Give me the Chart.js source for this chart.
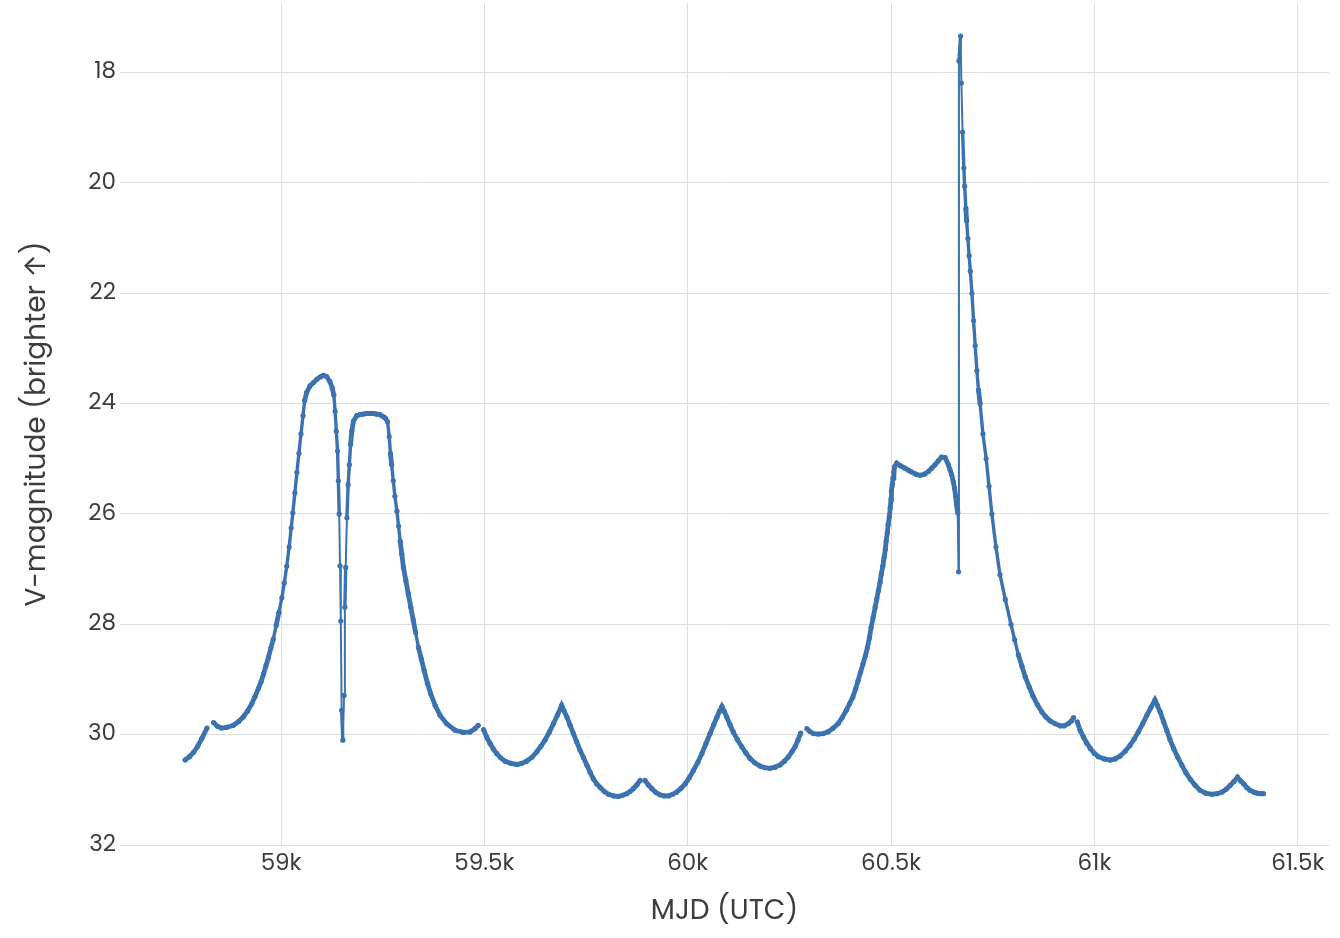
<!DOCTYPE html>
<html>
<head>
<meta charset="utf-8">
<script src="https://cdn.jsdelivr.net/npm/chart.js@4"></script>
<style>
  html, body { margin: 0; background: #fff; }
  #wrap { width: 1340px; height: 938px; }
</style>
</head>
<body>
<div id="wrap"><canvas id="chart"></canvas></div>
<script>
// light curve, one array per observing arc: [MJD, V-mag]
const arc1 = [[58764,30.46],[58775,30.40],[58785,30.32],[58795,30.21],[58805,30.07],[58818,29.88]];

const arc2 = [[58834,29.78],[58844,29.85],[58854,29.88],[58866,29.87],[58883,29.83],[58896,29.76],[58907,29.68],
  [58918,29.57],[58928,29.44],[58936,29.31],[58944,29.17],[58951,29.04],[58957,28.90],[58963,28.75],[58969,28.60],
  [58975,28.43],[58981,28.27],[58988,28.02],[58995,27.78],[59002,27.52],[59008,27.25],[59014,26.95],[59020,26.60],
  [59025,26.25],[59029,25.98],[59034,25.62],[59039,25.25],[59044,24.90],[59049,24.55],[59054,24.22],[59058,23.95],
  [59063,23.80],[59071,23.68],[59080,23.62],[59088,23.56],[59096,23.52],[59104,23.49],[59112,23.51],[59120,23.60],
  [59126,23.72],[59130,23.85],[59133,24.14],[59136,24.50],[59139,24.86],[59141,25.40],[59143,26.00],[59145,26.94],
  [59147,27.94],[59149,29.56],[59152,30.10],[59155,29.29],[59157,27.69],[59159,26.97],[59162,26.07],[59165,25.47],
  [59168,25.11],[59171,24.74],[59174,24.50],[59178,24.32],[59186,24.22],[59194,24.20],[59202,24.19],[59210,24.18],
  [59218,24.18],[59227,24.18],[59235,24.19],[59243,24.20],[59250,24.23],[59256,24.26],[59262,24.33],[59266,24.60],
  [59269,24.90],[59272,25.11],[59276,25.40],[59280,25.68],[59285,25.95],[59289,26.22],[59293,26.49],[59297,26.73],
  [59301,26.97],[59307,27.21],[59313,27.45],[59319,27.69],[59325,27.92],[59331,28.15],[59338,28.42],[59345,28.63],
  [59352,28.84],[59360,29.07],[59368,29.26],[59379,29.47],[59391,29.65],[59407,29.80],[59428,29.92],[59448,29.96],
  [59465,29.95],[59477,29.89],[59485,29.83]];

const arc3 = [[59498,29.91],[59506,30.05],[59514,30.16],[59522,30.26],[59530,30.34],[59540,30.42],[59551,30.48],
  [59565,30.52],[59580,30.54],[59592,30.52],[59604,30.48],[59617,30.41],[59629,30.31],[59639,30.21],[59649,30.10],
  [59660,29.95],[59670,29.80],[59680,29.64],[59690,29.47],[59696,29.57],[59703,29.68],[59711,29.83],[59719,29.98],
  [59727,30.13],[59735,30.28],[59744,30.42],[59752,30.55],[59760,30.68],[59768,30.80],[59776,30.89],[59785,30.96],
  [59795,31.03],[59805,31.08],[59818,31.11],[59830,31.12],[59840,31.10],[59850,31.07],[59858,31.03],[59866,30.98],
  [59875,30.91],[59883,30.83]];

const arc4 = [[59895,30.83],[59903,30.91],[59912,30.98],[59922,31.05],[59932,31.09],[59942,31.11],[59953,31.11],
  [59963,31.08],[59973,31.04],[59984,30.97],[59994,30.89],[60004,30.78],[60014,30.65],[60025,30.50],[60035,30.34],
  [60045,30.16],[60055,29.98],[60064,29.82],[60072,29.68],[60078,29.58],[60084,29.49],[60090,29.58],[60096,29.68],
  [60104,29.82],[60112,29.95],[60122,30.09],[60133,30.22],[60143,30.33],[60153,30.43],[60165,30.51],[60178,30.57],
  [60190,30.60],[60202,30.61],[60215,30.59],[60227,30.55],[60238,30.48],[60248,30.40],[60256,30.31],[60264,30.22],
  [60271,30.10],[60278,29.97]];

const arc5 = [[60293,29.89],[60300,29.94],[60309,29.98],[60321,29.99],[60333,29.98],[60345,29.95],[60358,29.88],
  [60370,29.80],[60380,29.69],[60390,29.56],[60398,29.44],[60406,29.32],[60413,29.17],[60419,29.02],[60425,28.87],
  [60431,28.72],[60437,28.57],[60442,28.42],[60447,28.24],[60451,28.06],[60456,27.88],[60461,27.69],[60465,27.54],
  [60469,27.39],[60473,27.24],[60476,27.09],[60480,26.94],[60483,26.79],[60486,26.64],[60488,26.49],[60491,26.34],
  [60493,26.19],[60496,26.04],[60498,25.89],[60500,25.74],[60501,25.59],[60503,25.47],[60505,25.35],[60507,25.24],
  [60509,25.14],[60514,25.08],[60524,25.13],[60534,25.17],[60543,25.21],[60551,25.24],[60561,25.28],[60571,25.30],
  [60582,25.28],[60592,25.23],[60600,25.17],[60608,25.11],[60616,25.04],[60624,24.97],[60633,24.98],[60641,25.11],
  [60645,25.20],[60649,25.29],[60653,25.41],[60656,25.53],[60659,25.68],[60661,25.83],[60663,25.92],[60664,25.98],
  [60666,27.05],[60667,17.79],[60671,17.34],[60673,18.19],[60676,19.08],[60679,19.73],[60681,20.06],[60684,20.46],
  [60686,20.69],[60689,21.01],[60692,21.32],[60695,21.60],[60699,22.00],[60703,22.50],[60707,22.95],[60711,23.40],
  [60715,23.75],[60719,24.00],[60726,24.55],[60734,25.00],[60741,25.50],[60748,26.00],[60758,26.60],[60768,27.10],
  [60781,27.55],[60795,28.00],[60804,28.28],[60813,28.55],[60822,28.76],[60830,28.95],[60840,29.14],[60849,29.30],
  [60860,29.46],[60871,29.59],[60881,29.68],[60891,29.75],[60903,29.80],[60916,29.84],[60926,29.84],[60936,29.80],
  [60944,29.75],[60949,29.69]];

const arc6 = [[60958,29.77],[60965,29.92],[60973,30.04],[60981,30.15],[60990,30.25],[61000,30.34],[61010,30.40],
  [61024,30.44],[61039,30.46],[61051,30.44],[61063,30.39],[61076,30.30],[61088,30.19],[61098,30.08],[61108,29.95],
  [61119,29.80],[61129,29.65],[61139,29.51],[61149,29.37],[61155,29.47],[61162,29.59],[61170,29.76],[61178,29.92],
  [61186,30.09],[61195,30.25],[61205,30.41],[61215,30.55],[61225,30.69],[61236,30.81],[61248,30.92],[61260,31.01],
  [61274,31.06],[61289,31.08],[61302,31.07],[61314,31.04],[61324,30.99],[61334,30.92],[61343,30.85],[61352,30.77],
  [61360,30.84],[61367,30.89],[61375,30.96],[61383,31.01],[61392,31.04],[61400,31.06],[61408,31.07],[61416,31.07]];

const xTicks = [59000, 59500, 60000, 60500, 61000, 61500];
const yTicks = [18, 20, 22, 24, 26, 28, 30, 32];

const lineColor = '#3b72b0';
const textColor = '#3c3c3c';
const gridColor = '#dedede';
const fontFamily = 'Poppins, Inter, sans-serif';

// break the line between arcs
const points = [];
[arc1, arc2, arc3, arc4, arc5, arc6].forEach((arc, i) => {
  if (i > 0) points.push({ x: arc[0][0] - 1, y: null });
  arc.forEach(([x, y]) => points.push({ x: x, y: y }));
});

const ctx = document.getElementById('chart');
new Chart(ctx, {
  type: 'line',
  data: {
    datasets: [{
      label: 'V',
      data: points,
      borderColor: lineColor,
      backgroundColor: lineColor,
      borderWidth: 4,
      pointRadius: 2.6,
      pointHoverRadius: 3,
      pointBorderWidth: 0,
      tension: 0,
      spanGaps: false,
      segment: {
        // long jumps show as a thin line, dense parts look thick
        borderWidth: c => {
          const len = Math.hypot(c.p1.x - c.p0.x, c.p1.y - c.p0.y);
          return len > 40 ? 2 : (len > 14 ? 3.4 : 4.8);
        }
      }
    }]
  },
  options: {
    responsive: true,
    maintainAspectRatio: false,
    animation: false,
    layout: { padding: { top: 0, right: 11, left: 0, bottom: 0 } },
    plugins: {
      legend: { display: false },
      tooltip: { enabled: false }
    },
    scales: {
      x: {
        type: 'linear',
        min: 58604,
        max: 61577,
        afterBuildTicks: s => { s.ticks = xTicks.map(v => ({ value: v })); },
        afterFit: s => { s.height = 93; },
        grid: { color: gridColor, drawTicks: false },
        border: { display: false },
        ticks: {
          color: textColor,
          padding: 5,
          maxRotation: 0,
          font: { family: fontFamily, size: 23 },
          callback: v => (v / 1000) + 'k'
        },
        title: {
          display: true,
          text: 'MJD (UTC)',
          color: textColor,
          font: { family: fontFamily, size: 28 },
          padding: { top: 0, bottom: 9 }
        }
      },
      y: {
        type: 'linear',
        reverse: true,
        min: 16.74,
        max: 32,
        afterBuildTicks: s => { s.ticks = yTicks.map(v => ({ value: v })); },
        afterFit: s => { s.width = 120; s.paddingTop = 0; s.paddingBottom = 0; },
        grid: { color: gridColor, drawTicks: false },
        border: { display: false },
        ticks: {
          color: textColor,
          padding: 4,
          font: { family: fontFamily, size: 23 }
        },
        title: {
          display: true,
          text: 'V-magnitude (brighter ↑)',
          color: textColor,
          font: { family: fontFamily, size: 28 },
          padding: { top: 21, bottom: 0 }
        }
      }
    }
  }
});
</script>
</body>
</html>
